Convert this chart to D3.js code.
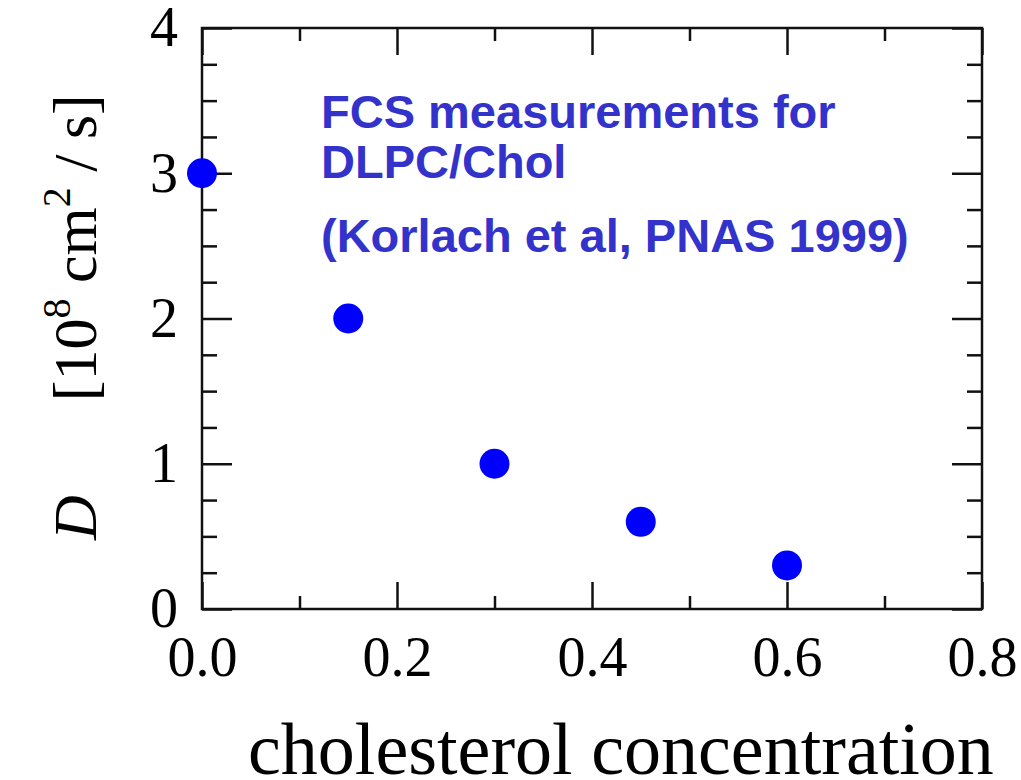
<!DOCTYPE html>
<html>
<head>
<meta charset="utf-8">
<script src="https://cdn.jsdelivr.net/npm/d3@7"></script>
<style>
  body { margin: 0; background: #fff; }
  svg { display: block; }
</style>
</head>
<body>
<div id="chart"></div>
<script>
// cholesterol fraction vs diffusion coefficient D (10^8 cm^2/s)
const conc = [0.0, 0.15, 0.3, 0.45, 0.6];
const diff = [3.0, 2.0, 1.0, 0.6, 0.3];

const xMajor = [0, 0.2, 0.4, 0.6, 0.8];
const xMinor = [0.1, 0.3, 0.5, 0.7];
const yMajor = [0, 1, 2, 3, 4];
const yMinor = [0.25, 0.5, 0.75, 1.25, 1.5, 1.75, 2.25, 2.5, 2.75, 3.25, 3.5, 3.75];

const noteLines = ["FCS measurements for", "DLPC/Chol", "(Korlach et al, PNAS 1999)"];

const W = 1021, H = 780;
const plotL = 202, plotR = 982, plotT = 28, plotB = 609;

const svg = d3.select("#chart").append("svg")
  .attr("width", W)
  .attr("height", H);

const x = d3.scaleLinear().domain([0, 0.8]).range([plotL, plotR]);
const y = d3.scaleLinear().domain([0, 4]).range([plotB, plotT]);

const serif = "'Liberation Serif', 'Times New Roman', serif";

function styleAxis(g) {
  g.select(".domain").remove();
  g.selectAll(".tick line").attr("stroke", "#111").attr("stroke-width", 2.5);
  g.selectAll(".tick text")
    .attr("font-family", serif)
    .attr("font-size", 56)
    .attr("fill", "#000");
}

// bottom
svg.append("g").attr("transform", `translate(0,${plotB})`)
  .call(d3.axisBottom(x).tickValues(xMajor).tickSize(-27).tickPadding(27).tickFormat(d3.format(".1f")))
  .call(styleAxis);
svg.append("g").attr("transform", `translate(0,${plotB})`)
  .call(d3.axisBottom(x).tickValues(xMinor).tickSize(-13).tickFormat(""))
  .call(styleAxis);
// top
svg.append("g").attr("transform", `translate(0,${plotT})`)
  .call(d3.axisTop(x).tickValues(xMajor).tickSize(-27).tickFormat(""))
  .call(styleAxis);
svg.append("g").attr("transform", `translate(0,${plotT})`)
  .call(d3.axisTop(x).tickValues(xMinor).tickSize(-13).tickFormat(""))
  .call(styleAxis);
// left
svg.append("g").attr("transform", `translate(${plotL},0)`)
  .call(d3.axisLeft(y).tickValues(yMajor).tickSize(-30).tickPadding(24).tickFormat(d3.format("d")))
  .call(styleAxis);
svg.append("g").attr("transform", `translate(${plotL},0)`)
  .call(d3.axisLeft(y).tickValues(yMinor).tickSize(-15).tickFormat(""))
  .call(styleAxis);
// right
svg.append("g").attr("transform", `translate(${plotR},0)`)
  .call(d3.axisRight(y).tickValues(yMajor).tickSize(-30).tickFormat(""))
  .call(styleAxis);
svg.append("g").attr("transform", `translate(${plotR},0)`)
  .call(d3.axisRight(y).tickValues(yMinor).tickSize(-15).tickFormat(""))
  .call(styleAxis);

// frame
svg.append("rect")
  .attr("x", plotL).attr("y", plotT)
  .attr("width", plotR - plotL).attr("height", plotB - plotT)
  .attr("fill", "none")
  .attr("stroke", "#111")
  .attr("stroke-width", 2.5);

// data points
svg.selectAll(".pt")
  .data(conc)
  .enter()
  .append("circle")
  .attr("class", "pt")
  .attr("cx", d => x(d))
  .attr("cy", (d, i) => y(diff[i]))
  .attr("r", 15)
  .attr("fill", "#0000ff");

// annotation
const noteY = [128, 178, 252];
svg.selectAll(".note")
  .data(noteLines)
  .enter()
  .append("text")
  .attr("class", "note")
  .attr("x", 321)
  .attr("y", (d, i) => noteY[i])
  .attr("font-family", "'Liberation Sans', Arial, sans-serif")
  .attr("font-weight", "bold")
  .attr("font-size", 47)
  .attr("fill", "#3333cc")
  .text(d => d);

// x label
svg.append("text")
  .attr("x", 248)
  .attr("y", 774)
  .attr("font-family", serif)
  .attr("font-size", 74)
  .attr("fill", "#000")
  .text("cholesterol concentration");

// y label
const yl = svg.append("text")
  .attr("transform", "translate(96,540) rotate(-90)")
  .attr("font-family", serif)
  .attr("font-size", 62)
  .attr("fill", "#000");
yl.append("tspan").attr("font-style", "italic").text("D");
yl.append("tspan").attr("dx", 94).text("[10");
yl.append("tspan").attr("font-size", 40).attr("dy", -26).text("8");
yl.append("tspan").attr("dy", 26).text(" cm");
yl.append("tspan").attr("font-size", 40).attr("dy", -26).text("2");
yl.append("tspan").attr("dy", 26).text(" / s]");
</script>
</body>
</html>
